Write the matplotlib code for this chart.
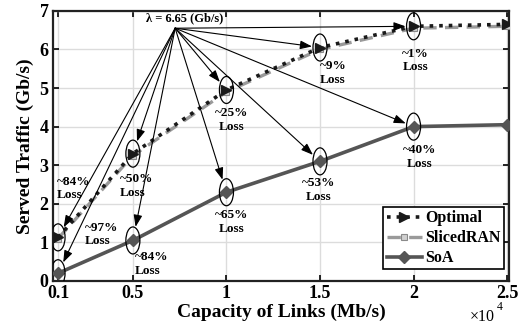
import numpy as np
import matplotlib
matplotlib.use('Agg')
import matplotlib.pyplot as plt
from matplotlib.patches import Ellipse

# capacity of links (x 10^4 Mb/s)
capacity = [0.1, 0.5, 1.0, 1.5, 2.0, 2.5]
optimal = [1.13, 3.30, 4.95, 6.05, 6.60, 6.65]
slicedran = [1.10, 3.25, 4.90, 6.00, 6.55, 6.60]
soa = [0.20, 1.05, 2.30, 3.10, 4.00, 4.05]
demand = 6.65

xticks = [0.1, 0.5, 1, 1.5, 2, 2.5]
xticklabels = ['0.1', '0.5', '1', '1.5', '2', '2.5']

# loss labels for the circled points (index into capacity)
opt_loss = ['~84%', '~50%', '~25%', '~9%', '~1%']
soa_loss = ['~97%', '~84%', '~65%', '~53%', '~40%']
# where the loss text sits (x, y, ha)
opt_text_pos = [(0.095, 2.40, 'left'), (0.43, 2.46, 'left'), (1.03, 4.17, 'center'),
                (1.57, 5.39, 'center'), (2.01, 5.72, 'center')]
soa_text_pos = [(0.245, 1.20, 'left'), (0.51, 0.44, 'left'), (1.03, 1.53, 'center'),
                (1.495, 2.36, 'center'), (2.03, 3.21, 'center')]

src = (0.726, 6.55)  # where all arrows start (under the lambda label)

plt.rcParams['font.family'] = ['Liberation Serif', 'DejaVu Serif']
plt.rcParams['font.weight'] = 'bold'

fig = plt.figure(figsize=(5.28, 3.29), dpi=100)
ax = fig.add_axes([0.100, 0.146, 0.864, 0.821])

ax.plot(capacity, optimal, linestyle=':', color='#1a1a1a', lw=2.6, marker='>',
        markersize=7, markerfacecolor='#1a1a1a', label='Optimal', zorder=4)
ax.plot(capacity, slicedran, linestyle=(0, (4, 2.5)), color='#9a9a9a', lw=2.4, marker='s',
        markersize=4.5, markerfacecolor='#d0d0d0', markeredgecolor='#8a8a8a',
        markeredgewidth=0.8, label='SlicedRAN', zorder=3)
ax.plot(capacity, soa, linestyle='-', color='#555555', lw=2.6, marker='D',
        markersize=6, markerfacecolor='#555555', label='SoA', zorder=3)

ax.set_xlim(0.072, 2.51)
ax.set_ylim(0, 7)
ax.set_xticks(xticks)
ax.set_xticklabels(xticklabels)
ax.set_yticks(range(8))
ax.tick_params(direction='in', length=4, width=1.2, top=True, right=True,
               labelsize=13, pad=3)
for lab in ax.get_xticklabels() + ax.get_yticklabels():
    lab.set_fontweight('bold')
ax.grid(True, color='#dcdcdc', lw=1.0)
ax.set_axisbelow(True)
for s in ax.spines.values():
    s.set_linewidth(1.6)
    s.set_color('#222222')

ax.set_xlabel('Capacity of Links (Mb/s)', fontsize=14, fontweight='bold', labelpad=1)
ax.set_ylabel('Served Traffic (Gb/s)', fontsize=14, fontweight='bold', labelpad=4)
# MATLAB style exponent under the last tick
fig.text(0.89, 0.012, '\u00d710', fontsize=11.5, ha='left', va='bottom', fontweight='normal')
fig.text(0.940, 0.050, '4', fontsize=8.5, ha='left', va='bottom', fontweight='normal')

ax.text(0.775, 6.80, '\u03bb = 6.65 (Gb/s)', fontsize=9, fontweight='bold',
        ha='center', va='center')

# ellipses around the compared points
ew, eh = 0.075, 0.70
fig.canvas.draw()
to_px = ax.transData.transform
src_px = to_px(src)
a_px = abs(to_px((ew / 2, 0))[0] - to_px((0, 0))[0])
b_px = abs(to_px((0, eh / 2))[1] - to_px((0, 0))[1])


def circle_and_point(x, y):
    ax.add_patch(Ellipse((x, y), ew, eh, fill=False, edgecolor='black', lw=0.9, zorder=5))
    # stop the arrow on the ellipse edge
    p = to_px((x, y))
    dx, dy = src_px - p
    th = np.arctan2(dy, dx)
    r = a_px * b_px / np.sqrt((b_px * np.cos(th)) ** 2 + (a_px * np.sin(th)) ** 2)
    ax.annotate('', xy=(x, y), xytext=src,
                arrowprops=dict(arrowstyle='-|>,head_length=0.55,head_width=0.2',
                                color='black', lw=0.8, mutation_scale=13,
                                shrinkA=0, shrinkB=(r + 1) * 72.0 / fig.dpi),
                zorder=6)


for i in range(5):
    circle_and_point(capacity[i], optimal[i])
    circle_and_point(capacity[i], soa[i])
    tx, ty, ha = opt_text_pos[i]
    ax.text(tx, ty, opt_loss[i] + '\nLoss', fontsize=9.5, fontweight='bold', ha=ha,
            va='center', linespacing=1.15, zorder=7)
    tx, ty, ha = soa_text_pos[i]
    ax.text(tx, ty, soa_loss[i] + '\nLoss', fontsize=9.5, fontweight='bold', ha=ha,
            va='center', linespacing=1.15, zorder=7)

leg = ax.legend(loc='lower right', bbox_to_anchor=(0.988, 0.043), frameon=True, fancybox=False,
                handlelength=2.2, handletextpad=0.2, borderpad=0.2, labelspacing=0.25,
                borderaxespad=0.0, prop={'weight': 'bold', 'size': 11.5})
leg.get_frame().set_edgecolor('black')
leg.get_frame().set_linewidth(1.2)
leg.get_frame().set_alpha(1)

fig.savefig('out.png', dpi=100)
